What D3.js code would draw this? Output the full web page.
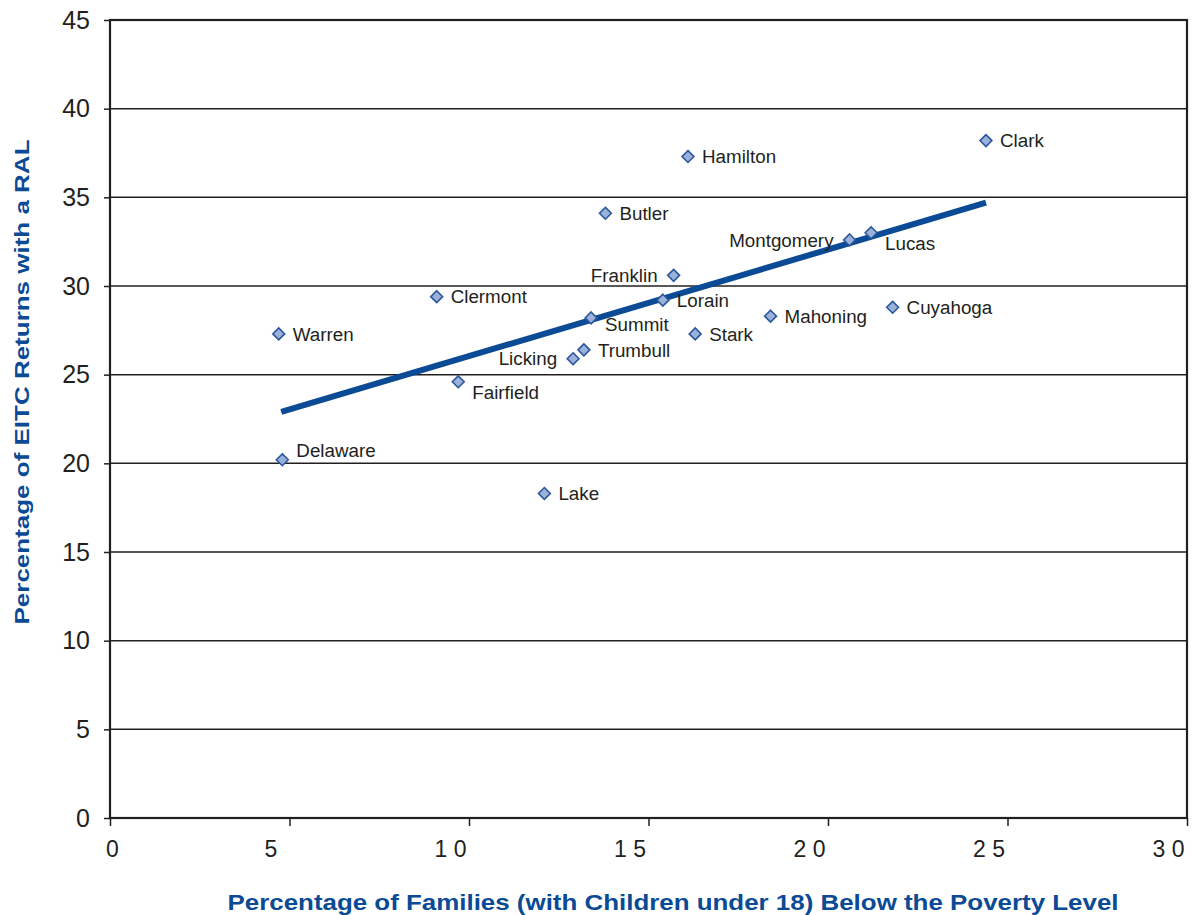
<!DOCTYPE html>
<html><head><meta charset="utf-8">
<script src="https://cdn.jsdelivr.net/npm/d3@7"></script>
<style>
html,body{margin:0;padding:0;background:#fff;}
svg{display:block;}
</style></head>
<body>
<script>
// ---- data ----
const counties = ["Warren","Delaware","Clermont","Fairfield","Lake","Licking","Trumbull","Summit","Butler","Lorain","Franklin","Hamilton","Stark","Mahoning","Montgomery","Lucas","Cuyahoga","Clark"];
const povertyPct = [4.7,4.8,9.1,9.7,12.1,12.9,13.2,13.4,13.8,15.4,15.7,16.1,16.3,18.4,20.6,21.2,21.8,24.4];
const ralPct = [27.3,20.2,29.4,24.6,18.3,25.9,26.4,28.2,34.1,29.2,30.6,37.3,27.3,28.3,32.6,33.0,28.8,38.2];
const trendX = [4.77,24.4];
const trendY = [22.9,34.7];
const xTicks = [0,5,10,15,20,25,30];
const yTicks = [0,5,10,15,20,25,30,35,40,45];

const W=1197,H=915;
const m={left:110,right:1187,top:20,bottom:818};
const svg=d3.select("body").append("svg").attr("width",W).attr("height",H);
const x=d3.scaleLinear().domain([0,30]).range([m.left,m.right]);
const y=d3.scaleLinear().domain([0,45]).range([m.bottom,m.top]);
const ink="#231f20", blue="#0b4a94";

// gridlines
svg.append("g").selectAll("line").data(yTicks.filter(v=>v>0&&v<45)).join("line")
  .attr("x1",m.left).attr("x2",m.right).attr("y1",d=>y(d)).attr("y2",d=>y(d))
  .attr("stroke",ink).attr("stroke-width",1.5);

// frame
svg.append("rect").attr("x",m.left).attr("y",m.top).attr("width",m.right-m.left).attr("height",m.bottom-m.top)
  .attr("fill","none").attr("stroke",ink).attr("stroke-width",2.2);

// y axis
const ya=svg.append("g").attr("transform",`translate(${m.left},0)`)
  .call(d3.axisLeft(y).tickValues(yTicks).tickSize(6).tickSizeOuter(0).tickPadding(14));
ya.select(".domain").remove();
ya.selectAll("line").attr("stroke",ink).attr("stroke-width",1.5);
ya.selectAll("text").attr("font-family","'Liberation Sans',Arial,sans-serif").attr("font-size",25).attr("fill",ink);

// x axis
const xa=svg.append("g").attr("transform",`translate(0,${m.bottom})`)
  .call(d3.axisBottom(x).tickValues(xTicks).tickSize(8).tickSizeOuter(0).tickPadding(10)
     .tickFormat(d=>String(d).split("").join(" ")));
xa.select(".domain").remove();
xa.selectAll("line").attr("stroke",ink).attr("stroke-width",1.5);
xa.selectAll("text").attr("font-family","'Liberation Sans',Arial,sans-serif").attr("font-size",23).attr("fill",ink)
  .attr("dx",d=>d===0?2:-19).attr("dy","0.9em");

// trend line
svg.append("line").attr("x1",x(trendX[0])).attr("y1",y(trendY[0])).attr("x2",x(trendX[1])).attr("y2",y(trendY[1]))
  .attr("stroke",blue).attr("stroke-width",6);

// points
const pts=counties.map((c,i)=>({c,px:povertyPct[i],py:ralPct[i]}));
const sym=d3.symbol().type(d3.symbolDiamond2).size(90);
svg.append("g").selectAll("path").data(pts).join("path")
  .attr("transform",d=>`translate(${x(d.px)},${y(d.py)})`)
  .attr("d",sym).attr("fill","#9cb1da").attr("stroke","#2b579c").attr("stroke-width",1.6);

// labels
const place={Licking:"left",Franklin:"left",Montgomery:"left",Summit:"belowright",Lucas:"belowright",Fairfield:"belowright",Delaware:"aboveright"};
svg.append("g").selectAll("text").data(pts).join("text")
  .attr("x",d=>{const p=place[d.c]; return x(d.px)+(p==="left"?-16:14);})
  .attr("y",d=>{const p=place[d.c]; return y(d.py)+(p==="belowright"?(d.c==="Summit"?6:10):p==="aboveright"?-10:0);})
  .attr("dy","0.36em")
  .attr("text-anchor",d=>place[d.c]==="left"?"end":"start")
  .attr("font-family","'Liberation Sans',Arial,sans-serif").attr("font-size",18.8).attr("fill",ink)
  .text(d=>d.c);

// axis titles
svg.append("text").attr("x",673).attr("y",910).attr("text-anchor","middle")
  .attr("font-family","'Liberation Sans',Arial,sans-serif").attr("font-weight","bold").attr("font-size",22).attr("fill",blue)
  .attr("textLength",891).attr("lengthAdjust","spacingAndGlyphs")
  .text("Percentage of Families (with Children under 18) Below the Poverty Level");
svg.append("text").attr("transform","translate(29,382) rotate(-90)").attr("text-anchor","middle")
  .attr("font-family","'Liberation Sans',Arial,sans-serif").attr("font-weight","bold").attr("font-size",21).attr("fill",blue)
  .attr("textLength",485).attr("lengthAdjust","spacingAndGlyphs")
  .text("Percentage of EITC Returns with a RAL");
</script>
</body></html>
